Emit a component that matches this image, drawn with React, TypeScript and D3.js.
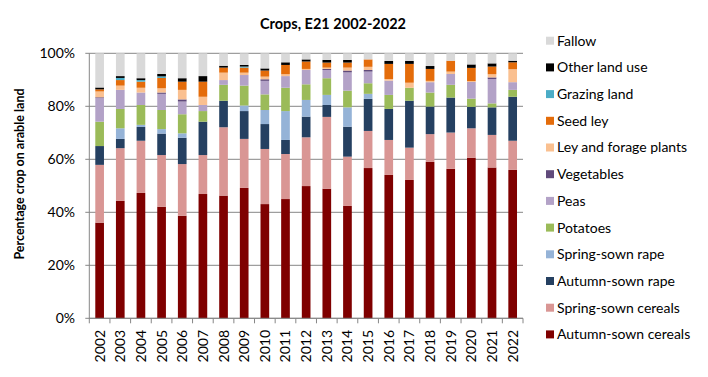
import React from "react";
import * as d3 from "d3";

const years = ["2002","2003","2004","2005","2006","2007","2008","2009","2010","2011","2012","2013","2014","2015","2016","2017","2018","2019","2020","2021","2022"];

const seriesNames = ["Autumn-sown cereals","Spring-sown cereals","Autumn-sown rape","Spring-sown rape","Potatoes","Peas","Vegetables","Ley and forage plants","Seed ley","Grazing land","Other land use","Fallow"];
const seriesColors = ["#7f0000","#d99694","#254061","#95b3d7","#9bbb59","#b3a2c7","#604a7b","#fac090","#e46c0a","#4bacc6","#000000","#d9d9d9"];

const autumnCereals = [36.1,44.3,47.3,42.1,38.7,46.9,46.3,49.2,43.1,45.0,49.9,48.9,42.4,56.7,54.1,52.2,59.0,56.4,60.6,56.9,56.0];
const springCereals = [21.8,19.9,19.7,19.5,19.5,14.7,25.8,18.5,20.8,17.0,18.4,27.1,18.6,14.0,13.2,12.2,10.5,13.7,11.1,12.3,11.0];
const autumnRape    = [7.1,3.5,5.2,8.1,9.9,12.6,10.0,10.5,9.4,5.3,7.8,4.5,11.3,12.1,11.7,17.7,10.4,13.2,8.1,10.4,16.6];
const springRape    = [0,4.0,0.8,1.7,1.7,0,0,2.1,5.3,10.9,6.3,3.8,7.3,1.9,0,0,0,0,0,0,0];
const potatoes      = [9.2,7.3,7.5,7.2,7.2,4.0,6.0,7.5,5.9,8.8,5.9,6.3,6.3,4.0,5.3,4.9,5.3,4.8,3.1,1.5,2.6];
const peas          = [8.9,7.2,4.7,6.1,4.8,2.3,1.8,4.0,5.1,4.4,5.4,3.1,6.9,4.4,5.4,0,3.9,4.1,6.3,9.2,2.9];
const vegetables    = [0.3,0,0,0.5,0.8,0,0,0,0.6,0,0,0.4,0.7,0.6,0,0,0,0,0,0.6,0];
const leyForage     = [2.2,1.6,1.8,1.6,3.6,3.1,2.8,0.9,1.0,0.7,0.4,0.5,1.1,1.2,0.6,1.9,0.5,0.9,0.3,1.2,4.9];
const seedLey       = [0.8,2.1,2.3,3.9,3.1,5.7,1.9,1.9,2.3,3.5,2.8,1.9,1.9,2.8,5.7,7.1,4.5,4.1,5.0,2.9,2.6];
const grazing       = [0,0.8,0.6,0.6,0,0,0,0.4,0,0,0,0,0,0,0,0,0,0,0,0,0];
const otherLand     = [0.7,0.7,0.7,0.9,1.3,2.1,0.7,0.6,0.8,1.0,0.8,1.0,1.0,0,1.1,1.1,1.1,0,1.3,1.2,0.6];
const fallow        = [12.9,8.6,9.4,7.8,9.4,8.6,4.7,4.4,5.7,3.4,2.3,2.5,2.5,2.3,2.9,2.9,4.8,2.8,4.2,3.8,2.8];

const yTicks = [0, 20, 40, 60, 80, 100];
const legendOrder = [11,10,9,8,7,6,5,4,3,2,1,0];

export default function App() {
  const W = 708, H = 377;
  const left = 89.3, right = 523, top = 53.3, bottom = 318.3;
  const font = "Lato, 'Open Sans', sans-serif";
  const allSeries = [autumnCereals, springCereals, autumnRape, springRape, potatoes, peas, vegetables, leyForage, seedLey, grazing, otherLand, fallow];

  const rows = years.map((y, i) => {
    const r: any = { year: y };
    seriesNames.forEach((n, k) => { r[n] = allSeries[k][i]; });
    return r;
  });
  const stack = d3.stack<any>().keys(seriesNames)(rows);

  const x = d3.scaleBand().domain(years).range([left, right]).paddingInner(0.58).paddingOuter(0.29);
  const xb = d3.scaleBand().domain(years).range([left, right]);
  const y = d3.scaleLinear().domain([0, 100]).range([bottom, top]);

  return (
    <svg width={W} height={H} style={{ position: "absolute", left: 0, top: 0, background: "#fff" }} fontFamily={font}>
      <text x={333} y={29} textAnchor="middle" fontSize={14.5} fontWeight="bold" fill="#000">Crops, E21 2002-2022</text>
      {yTicks.map(t => (
        <g key={t}>
          <line x1={left - 4} x2={right} y1={y(t)} y2={y(t)} stroke="#868686" strokeWidth={1} />
          <text x={75} y={y(t)} dy="0.35em" textAnchor="end" fontSize={14} fill="#000">{t}%</text>
        </g>
      ))}
      {stack.map((s, k) => (
        <g key={k} fill={seriesColors[k]}>
          {s.map((d, i) => (
            d[1] - d[0] > 0 ? <rect key={i} x={x(years[i])} width={x.bandwidth()} y={y(d[1])} height={y(d[0]) - y(d[1])} /> : null
          ))}
        </g>
      ))}
      <line x1={left} x2={left} y1={top} y2={bottom} stroke="#868686" />
      <line x1={left} x2={right} y1={bottom} y2={bottom} stroke="#868686" />
      {years.concat(["end"]).map((yr, i) => {
        const px = i < years.length ? (xb(yr) as number) : right;
        return <line key={"t" + i} x1={px} x2={px} y1={bottom} y2={bottom + 5} stroke="#868686" />;
      })}
      {years.map(yr => {
        const cx = (xb(yr) as number) + xb.bandwidth() / 2;
        return <text key={yr} transform={`translate(${cx + 5},${330}) rotate(-90)`} textAnchor="end" fontSize={14} fill="#000">{yr}</text>;
      })}
      <text transform={`translate(24,${174}) rotate(-90)`} textAnchor="middle" fontSize={12.5} fontWeight="bold" fill="#000">Percentage crop on arable land</text>
      {legendOrder.map((k, j) => {
        const ly = 40.7 + j * 26.7;
        return (
          <g key={k}>
            <rect x={546} y={ly - 4} width={8} height={8} fill={seriesColors[k]} />
            <text x={557} y={ly} dy="0.35em" fontSize={14} fill="#000">{seriesNames[k]}</text>
          </g>
        );
      })}
    </svg>
  );
}
